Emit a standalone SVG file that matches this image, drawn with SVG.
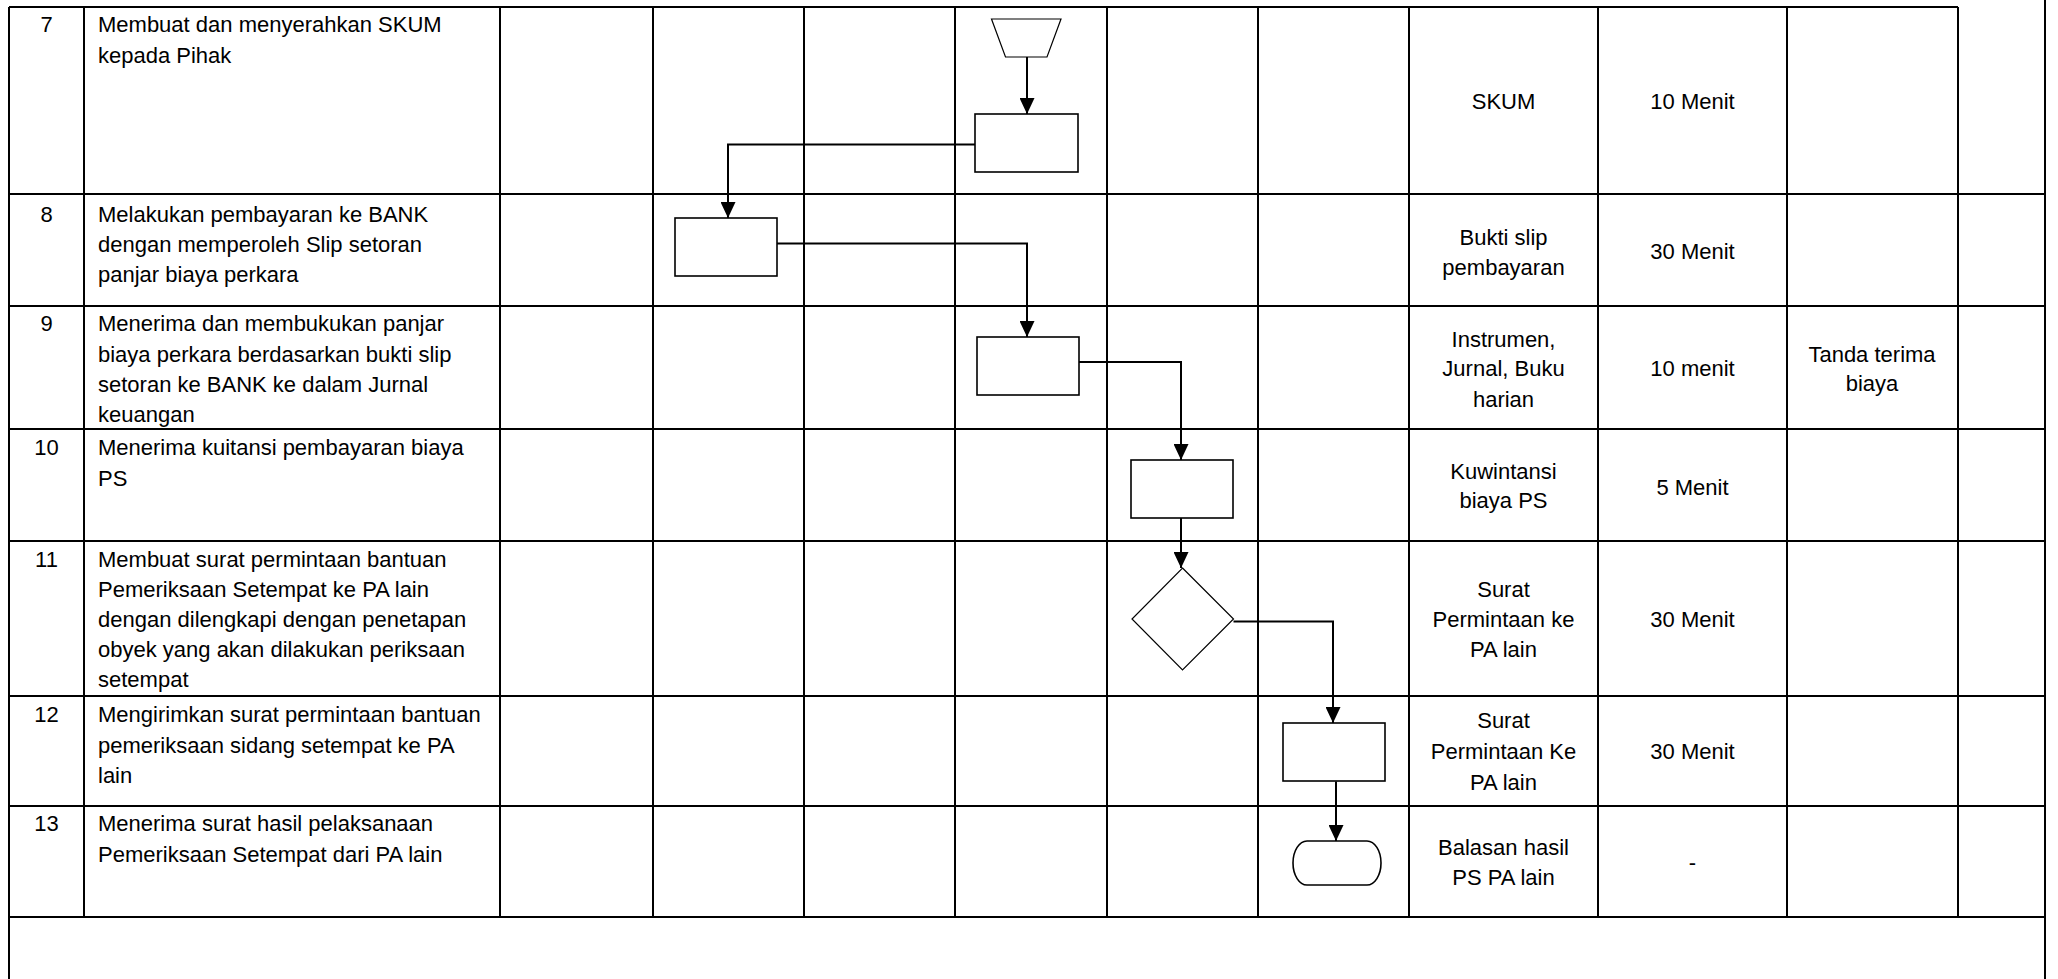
<svg xmlns="http://www.w3.org/2000/svg" width="2058" height="979" viewBox="0 0 2058 979">
<style>
.grid{stroke:#000;stroke-width:2;fill:none}
.t{font-family:"Liberation Sans",Arial,sans-serif;font-size:22px;fill:#000}
.c{text-anchor:middle}
.shape{fill:#fff;stroke:#000;stroke-width:1.6}
.thin{fill:#fff;stroke:#000;stroke-width:1.2}
.conn{fill:none;stroke:#000;stroke-width:2}
</style>
<defs>
<marker id="arr" markerUnits="userSpaceOnUse" markerWidth="16" markerHeight="15" refX="16" refY="7.5" orient="auto">
<path d="M0,0 L16,7.5 L0,15 z" fill="#000"/>
</marker>
</defs>
<rect width="2058" height="979" fill="#fff"/>
<g id="table" class="grid">
<path d="M9,7 H1958"/>
<path d="M9,194 H2045 M9,306 H2045 M9,429 H2045 M9,541 H2045 M9,696 H2045 M9,806 H2045 M9,917 H2045"/>
<path d="M9,7 V979 M2045,0 V979"/>
<path d="M84,7 V917 M500,7 V917 M653,7 V917 M804,7 V917 M955,7 V917 M1107,7 V917 M1258,7 V917 M1409,7 V917 M1598,7 V917 M1787,7 V917 M1958,7 V917"/>
</g>
<g id="texts" class="t">
<text x="46.5" y="32.3" class="c">7</text>
<text x="98" y="32.3">Membuat dan menyerahkan SKUM</text>
<text x="98" y="63.3">kepada Pihak</text>
<text x="1503.5" y="109.3" class="c">SKUM</text>
<text x="1692.5" y="109.3" class="c">10 Menit</text>

<text x="46.5" y="222" class="c">8</text>
<text x="98" y="222">Melakukan pembayaran ke BANK</text>
<text x="98" y="252">dengan memperoleh Slip setoran</text>
<text x="98" y="282">panjar biaya perkara</text>
<text x="1503.5" y="245" class="c">Bukti slip</text>
<text x="1503.5" y="274.5" class="c">pembayaran</text>
<text x="1692.5" y="259.3" class="c">30 Menit</text>

<text x="46.5" y="331" class="c">9</text>
<text x="98" y="331">Menerima dan membukukan panjar</text>
<text x="98" y="361.5">biaya perkara berdasarkan bukti slip</text>
<text x="98" y="391.5">setoran ke BANK ke dalam Jurnal</text>
<text x="98" y="421.5">keuangan</text>
<text x="1503.5" y="346.7" class="c">Instrumen,</text>
<text x="1503.5" y="376.3" class="c">Jurnal, Buku</text>
<text x="1503.5" y="406.5" class="c">harian</text>
<text x="1692.5" y="376.3" class="c">10 menit</text>
<text x="1872" y="361.5" class="c">Tanda terima</text>
<text x="1872" y="390.5" class="c">biaya</text>

<text x="46.5" y="454.5" class="c">10</text>
<text x="98" y="454.5">Menerima kuitansi pembayaran biaya</text>
<text x="98" y="485.5">PS</text>
<text x="1503.5" y="479" class="c">Kuwintansi</text>
<text x="1503.5" y="508.3" class="c">biaya PS</text>
<text x="1692.5" y="495" class="c">5 Menit</text>

<text x="46.5" y="567" class="c">11</text>
<text x="98" y="567">Membuat surat permintaan bantuan</text>
<text x="98" y="597">Pemeriksaan Setempat ke PA lain</text>
<text x="98" y="627">dengan dilengkapi dengan penetapan</text>
<text x="98" y="657">obyek yang akan dilakukan periksaan</text>
<text x="98" y="687">setempat</text>
<text x="1503.5" y="596.7" class="c">Surat</text>
<text x="1503.5" y="626.7" class="c">Permintaan ke</text>
<text x="1503.5" y="657.3" class="c">PA lain</text>
<text x="1692.5" y="626.7" class="c">30 Menit</text>

<text x="46.5" y="721.7" class="c">12</text>
<text x="98" y="721.7">Mengirimkan surat permintaan bantuan</text>
<text x="98" y="752.5">pemeriksaan sidang setempat ke PA</text>
<text x="98" y="783">lain</text>
<text x="1503.5" y="728.3" class="c">Surat</text>
<text x="1503.5" y="759.3" class="c">Permintaan Ke</text>
<text x="1503.5" y="790" class="c">PA lain</text>
<text x="1692.5" y="759.3" class="c">30 Menit</text>

<text x="46.5" y="831" class="c">13</text>
<text x="98" y="831">Menerima surat hasil pelaksanaan</text>
<text x="98" y="861.5">Pemeriksaan Setempat dari PA lain</text>
<text x="1503.5" y="855" class="c">Balasan hasil</text>
<text x="1503.5" y="885" class="c">PS PA lain</text>
<text x="1692.5" y="870" class="c">-</text>
</g>
<g id="connectors">
<path class="conn" d="M1027,57 V114" marker-end="url(#arr)"/>
<path class="conn" d="M975,144.5 H728 V218" marker-end="url(#arr)"/>
<path class="conn" d="M777,243.5 H1027 V337" marker-end="url(#arr)"/>
<path class="conn" d="M1079,362 H1181 V460" marker-end="url(#arr)"/>
<path class="conn" d="M1181,518 V568" marker-end="url(#arr)"/>
<path class="conn" d="M1233.5,621.5 H1333 V723" marker-end="url(#arr)"/>
<path class="conn" d="M1336,781.5 V841" marker-end="url(#arr)"/>
</g>
<g id="n7-start"><polygon class="thin" points="991.5,19 1061,19 1047,57 1005.5,57"/></g>
<g id="n7-proc"><rect class="shape" x="975" y="114" width="103" height="58"/></g>
<g id="n8-proc"><rect class="shape" x="675" y="218" width="102" height="58"/></g>
<g id="n9-proc"><rect class="shape" x="977" y="337" width="102" height="58"/></g>
<g id="n10-proc"><rect class="shape" x="1131" y="460" width="102" height="58"/></g>
<g id="n11-decision"><polygon class="thin" points="1182.5,568 1233.5,619 1182.5,670 1132,619"/></g>
<g id="n12-proc"><rect class="shape" x="1283" y="723" width="102" height="58"/></g>
<g id="n13-end"><rect class="shape" x="1293" y="841" width="88" height="44" rx="14" ry="22"/></g>
</svg>
